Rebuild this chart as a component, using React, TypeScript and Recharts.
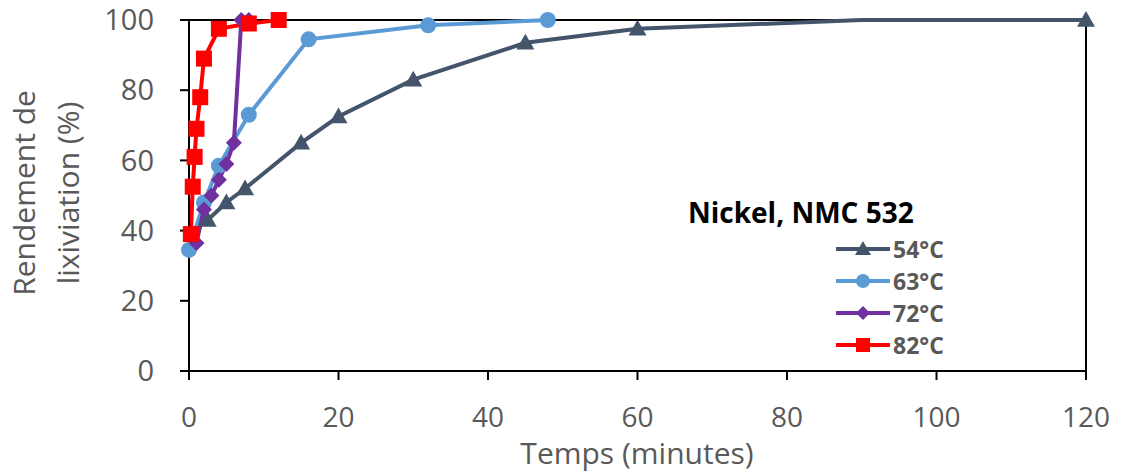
import React from "react";
import { LineChart, Line, XAxis, YAxis, Label, CartesianGrid } from "recharts";

// leaching yield (%) vs time (minutes), Nickel NMC 532
const time54 = [2.5, 5, 7.5, 15, 20, 30, 45, 60, 90, 120];
const yield54 = [43, 48, 52, 65, 72.5, 83, 93.5, 97.5, 100, 100];
const hiddenMarkers54 = [90];

const time63 = [0, 2, 4, 8, 16, 32, 48];
const yield63 = [34.5, 48, 58.5, 73, 94.5, 98.5, 100];

const time72 = [1, 2, 3, 4, 5, 6, 7, 8];
const yield72 = [36.5, 46, 50, 54.5, 59, 65, 100, 100];

const time82 = [0.25, 0.5, 0.75, 1, 1.5, 2, 4, 8, 12];
const yield82 = [39, 52.5, 61, 69, 78, 89, 97.5, 99, 100];

const xTicks = [0, 20, 40, 60, 80, 100, 120];
const yTicks = [0, 20, 40, 60, 80, 100];

const toRows = (t: number[], v: number[]) => t.map((x, i) => ({ t: x, v: v[i] }));

const FONT = "'Open Sans', sans-serif";
const GREY = "#595959";

const Tri = ({ cx, cy, fill, size = 9 }: any) => (
  <polygon points={`${cx},${cy - size} ${cx - size},${cy + size * 0.75} ${cx + size},${cy + size * 0.75}`} fill={fill} />
);
const Dia = ({ cx, cy, fill, size = 8 }: any) => (
  <polygon points={`${cx},${cy - size} ${cx + size},${cy} ${cx},${cy + size} ${cx - size},${cy}`} fill={fill} />
);
const Sq = ({ cx, cy, fill, size = 8 }: any) => (
  <rect x={cx - size} y={cy - size} width={size * 2} height={size * 2} fill={fill} />
);
const Circ = ({ cx, cy, fill, size = 8 }: any) => <circle cx={cx} cy={cy} r={size} fill={fill} />;

const series = [
  { name: "54°C", color: "#44546A", rows: toRows(time54, yield54), Marker: Tri },
  { name: "63°C", color: "#5B9BD5", rows: toRows(time63, yield63), Marker: Circ },
  { name: "72°C", color: "#7030A0", rows: toRows(time72, yield72), Marker: Dia },
  { name: "82°C", color: "#FF0000", rows: toRows(time82, yield82), Marker: Sq },
];

function LegendBox() {
  return (
    <div style={{ position: "absolute", left: 688, top: 193, fontFamily: FONT }}>
      <div style={{ fontSize: 28, fontWeight: 700, color: "#000", lineHeight: "38px", marginBottom: 2 }}>
        Nickel, NMC 532
      </div>
      {series.map((s) => (
        <div key={s.name} style={{ display: "flex", alignItems: "center", height: 32, marginLeft: 148 }}>
          <svg width={56} height={22}>
            <line x1={0} y1={11} x2={54} y2={11} stroke={s.color} strokeWidth={4} />
            <s.Marker cx={27} cy={11} fill={s.color} size={s.Marker === Tri ? 8 : 7} />
          </svg>
          <span style={{ fontSize: 23, fontWeight: 700, color: GREY, marginLeft: 1 }}>{s.name}</span>
        </div>
      ))}
    </div>
  );
}

export default function App() {
  return (
    <div style={{ position: "absolute", left: 0, top: 0, width: 1125, height: 475, background: "#fff" }}>
      <LineChart width={1125} height={475} margin={{ top: 20, right: 39, left: 0, bottom: 0 }}>
        {/* frame: top and right edges of the plot area */}
        <CartesianGrid
          stroke="#000"
          strokeWidth={2}
          horizontalCoordinatesGenerator={({ offset }: any) => [offset.top]}
          verticalCoordinatesGenerator={({ offset }: any) => [offset.left + offset.width]}
        />
        <XAxis
          type="number"
          dataKey="t"
          domain={[0, 120]}
          ticks={xTicks}
          interval={0}
          height={104}
          tickSize={9}
          tickMargin={27}
          axisLine={{ stroke: "#000", strokeWidth: 2 }}
          tickLine={{ stroke: "#000", strokeWidth: 2 }}
          tick={{ fill: GREY, fontSize: 28, fontFamily: FONT }}
        >
          <Label
            content={() => (
              <text x={637} y={464} textAnchor="middle" fill={GREY} fontSize={30} fontFamily={FONT}>
                Temps (minutes)
              </text>
            )}
          />
        </XAxis>
        <YAxis
          type="number"
          domain={[0, 100]}
          ticks={yTicks}
          interval={0}
          width={189}
          tickSize={9}
          tickMargin={26}
          axisLine={{ stroke: "#000", strokeWidth: 2 }}
          tickLine={{ stroke: "#000", strokeWidth: 2 }}
          tick={{ fill: GREY, fontSize: 29, fontFamily: FONT }}
        >
          <Label
            content={() => (
              <g fill={GREY} fontSize={30} fontFamily={FONT}>
                <text x={35} y={193} textAnchor="middle" transform="rotate(-90 35 193)">Rendement de</text>
                <text x={79} y={193} textAnchor="middle" transform="rotate(-90 79 193)">lixiviation (%)</text>
              </g>
            )}
          />
        </YAxis>
        {series.map((s) => (
          <Line
            key={s.name}
            data={s.rows}
            dataKey="v"
            name={s.name}
            stroke={s.color}
            strokeWidth={4}
            isAnimationActive={false}
            activeDot={false}
            dot={(p: any) => {
              const hide = s.name === "54°C" && hiddenMarkers54.includes(p.payload.t);
              if (hide) return <g key={p.key ?? p.index} />;
              return <s.Marker key={p.key ?? p.index} cx={p.cx} cy={p.cy} fill={s.color} />;
            }}
          />
        ))}
      </LineChart>
      <LegendBox />
    </div>
  );
}
